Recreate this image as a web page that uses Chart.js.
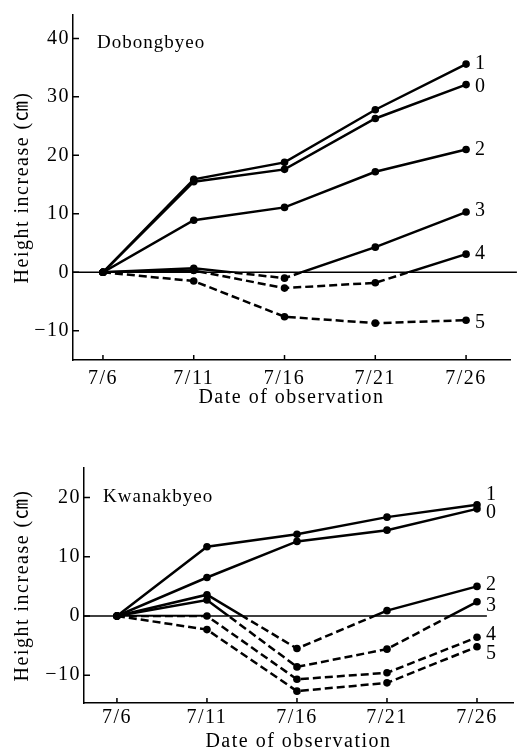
<!doctype html>
<html lang="en">
<head>
<meta charset="utf-8">
<title>Height increase</title>
<script src="https://cdn.jsdelivr.net/npm/chart.js@4.4.1/dist/chart.umd.min.js"></script>
<style>
  * { margin: 0; padding: 0; box-sizing: border-box; }
  body { background: #fff; width: 519px; height: 754px; position: relative; overflow: hidden; }
  .box { position: absolute; left: 0; width: 519px; }
  #top { top: 0; height: 412px; }
  #bot { top: 440px; height: 314px; }
</style>
</head>
<body>
<div class="box" id="top"><canvas id="c1"></canvas></div>
<div class="box" id="bot"><canvas id="c2"></canvas></div>
<script>
// observation dates (July), tick labels
const days = [6, 11, 16, 21, 26];
const seriesNames = ['0', '1', '2', '3', '4', '5'];
const dobTicks = [-10, 0, 10, 20, 30, 40];
const kwaTicks = [-10, 0, 10, 20];

// Dobongbyeo
const dob0 = [0, 15.5, 17.6, 26.3, 32.1];
const dob1 = [0, 15.9, 18.8, 27.8, 35.6];
const dob2 = [0, 8.9, 11.1, 17.2, 21.0];
const dob3 = [0, 0.7, -1.0, 4.3, 10.3];
const dob4 = [0, 0.3, -2.7, -1.8, 3.1];
const dob5 = [0, -1.5, -7.6, -8.7, -8.2];

// Kwanakbyeo
const kwa0 = [0, 6.5, 12.6, 14.5, 18.1];
const kwa1 = [0, 11.7, 13.8, 16.7, 18.8];
const kwa2 = [0, 3.6, -5.5, 0.9, 5.0];
const kwa3 = [0, 2.7, -8.6, -5.6, 2.4];
const kwa4 = [0, 0, -10.7, -9.6, -3.6];
const kwa5 = [0, -2.3, -12.7, -11.3, -5.2];

const FAMILY = "'Liberation Serif', 'Noto Sans CJK JP', serif";

// solid above zero, dashed below: each series is drawn twice, clipped at y=0
const styling = {
  id: 'styling',
  beforeDraw(chart) {
    chart.ctx.letterSpacing = '1.5px';
  },
  beforeDatasetsDraw(chart, args, opts) {
    const ctx = chart.ctx, a = chart.chartArea;
    const zy = chart.scales.y.getPixelForValue(0);
    ctx.save();
    ctx.strokeStyle = '#000';
    ctx.lineWidth = 1.5;
    ctx.beginPath();
    ctx.moveTo(a.left, zy);
    ctx.lineTo(chart.scales.x.getPixelForValue(opts.zeroEnd), zy);
    ctx.stroke();
    ctx.restore();
  },
  beforeDatasetDraw(chart, args) {
    const ds = chart.data.datasets[args.index];
    const ctx = chart.ctx;
    const zy = chart.scales.y.getPixelForValue(0);
    ctx.save();
    ctx.beginPath();
    if (ds.part === 'pos') ctx.rect(0, 0, chart.width, zy);
    else ctx.rect(0, zy, chart.width, chart.height - zy);
    ctx.clip();
  },
  afterDatasetDraw(chart) {
    chart.ctx.restore();
  },
  afterDraw(chart, args, opts) {
    const ctx = chart.ctx, a = chart.chartArea;
    const xs = chart.scales.x, ys = chart.scales.y;
    ctx.save();
    // inside tick marks
    ctx.strokeStyle = '#000';
    ctx.lineWidth = 1.5;
    ctx.beginPath();
    ys.ticks.forEach(t => {
      const y = ys.getPixelForValue(t.value);
      ctx.moveTo(a.left, y);
      ctx.lineTo(a.left + 6, y);
    });
    xs.ticks.forEach(t => {
      const x = xs.getPixelForValue(t.value);
      ctx.moveTo(x, a.bottom);
      ctx.lineTo(x, a.bottom - 5);
    });
    ctx.stroke();

    // series numbers at line ends
    ctx.fillStyle = '#000';
    ctx.letterSpacing = '0px';
    ctx.font = '20px ' + FAMILY;
    ctx.textAlign = 'left';
    ctx.textBaseline = 'middle';
    chart.data.datasets.forEach((ds, i) => {
      if (ds.part !== 'pos') return;
      const pts = chart.getDatasetMeta(i).data;
      const p = pts[pts.length - 1];
      ctx.fillText(ds.name, p.x + 9, p.y + ds.labelDy);
    });

    // variety name
    ctx.letterSpacing = '1px';
    ctx.font = '19px ' + FAMILY;
    ctx.fillText(opts.variety, opts.vx, opts.vy);
    ctx.restore();
  }
};

function makeChart(id, series, o) {
  const datasets = [];
  series.forEach((vals, k) => {
    const pts = vals.map((v, i) => ({x: days[i], y: v}));
    ['pos', 'neg'].forEach(part => datasets.push({
      data: pts,
      part: part,
      name: seriesNames[k],
      labelDy: o.labelDy[k],
      borderColor: '#000',
      backgroundColor: '#000',
      borderWidth: 2.5,
      borderDash: part === 'neg' ? [8, 4] : [],
      pointRadius: 3.8,
      pointBorderWidth: 0,
      tension: 0
    }));
  });

  return new Chart(document.getElementById(id), {
    type: 'line',
    data: {datasets: datasets},
    options: {
      responsive: true,
      maintainAspectRatio: false,
      animation: false,
      devicePixelRatio: 1,
      layout: {padding: o.pad},
      plugins: {
        legend: {display: false},
        tooltip: {enabled: false},
        styling: {variety: o.variety, vx: o.vx, vy: o.vy, zeroEnd: o.zeroEnd}
      },
      scales: {
        x: {
          type: 'linear',
          min: o.xMin,
          max: o.xMax,
          afterBuildTicks: s => { s.ticks = days.map(v => ({value: v})); },
          afterFit: s => { s.height = o.xH; },
          grid: {display: false, drawTicks: false},
          border: {color: '#000', width: 1.5},
          ticks: {
            color: '#000', font: {family: FAMILY, size: 20}, padding: o.xTickPad,
            autoSkip: false, maxRotation: 0,
            callback: v => '7/' + v
          },
          title: {
            display: true, text: 'Date of observation', color: '#000',
            font: {family: FAMILY, size: 20, lineHeight: 1},
            padding: {top: 0, bottom: o.xTitlePad}
          }
        },
        y: {
          min: o.yMin,
          max: o.yMax,
          afterBuildTicks: s => { s.ticks = o.yTicks.map(v => ({value: v})); },
          afterFit: s => { s.width = o.yW; },
          grid: {display: false, drawTicks: false},
          border: {color: '#000', width: 1.5},
          ticks: {
            color: '#000', font: {family: FAMILY, size: 20}, padding: 3,
            callback: v => v < 0 ? '\u2212' + (-v) : String(v)
          },
          title: {
            display: true, text: 'Height increase (\u339D)', color: '#000',
            font: {family: FAMILY, size: 20, lineHeight: 1},
            padding: {top: 13, bottom: 0}
          }
        }
      }
    },
    plugins: [styling]
  });
}

makeChart('c1', [dob0, dob1, dob2, dob3, dob4, dob5], {
  xMin: 4.35, xMax: 28.42, yMin: -15, yMax: 44, yTicks: dobTicks,
  pad: {top: 7, right: 9, left: 0, bottom: 0}, yW: 73, xH: 52,
  xTickPad: 7, xTitlePad: 4,
  labelDy: [2, 0, 0, -1, 0, 3],
  variety: 'Dobongbyeo', vx: 97, vy: 43, zeroEnd: 28.8
});

makeChart('c2', [kwa0, kwa1, kwa2, kwa3, kwa4, kwa5], {
  xMin: 4.17, xMax: 28.0, yMin: -14.7, yMax: 25, yTicks: kwaTicks,
  pad: {top: 28, right: 6, left: 0, bottom: 0}, yW: 84, xH: 51,
  xTickPad: 3, xTitlePad: 2,
  labelDy: [4, -10, -2, 4, -3, 7],
  variety: 'Kwanakbyeo', vx: 103, vy: 57, zeroEnd: 26.55
});
</script>
</body>
</html>
